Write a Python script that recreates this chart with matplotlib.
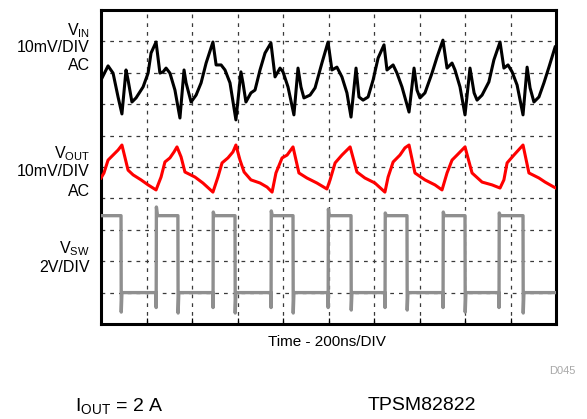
import matplotlib
matplotlib.use("Agg")
import matplotlib.pyplot as plt
import numpy as np

plt.rcParams['font.family'] = ['Liberation Sans', 'DejaVu Sans']
plt.rcParams['mathtext.fontset'] = 'custom'
plt.rcParams['mathtext.rm'] = 'Liberation Sans'
plt.rcParams['mathtext.it'] = 'Liberation Sans'

# Scope screen: 10 x 10 divisions, 200 ns/DIV
TIME_PER_DIV = 200  # ns

# VIN (AC, 10 mV/DIV)
vin_t_ns = [0, 31, 53, 75, 92, 110, 119, 136, 154, 185, 207, 220, 242, 259, 273, 286,
            303, 325, 347, 365, 374, 396, 418, 440, 462, 492, 506, 528, 545, 567, 593,
            615, 624, 637, 659, 677, 699, 721, 747, 765, 787, 800, 822, 848, 866, 879,
            892, 919, 941, 971, 998, 1015, 1037, 1059, 1081, 1099, 1121, 1134, 1152,
            1174, 1196, 1218, 1244, 1257, 1284, 1301, 1323, 1354, 1376, 1389, 1402,
            1424, 1455, 1477, 1503, 1521, 1543, 1556, 1578, 1600, 1622, 1640, 1653,
            1675, 1705, 1727, 1754, 1771, 1789, 1807, 1829, 1855, 1873, 1886, 1903,
            1925, 1947, 1969, 1996]
vin_mv = [-2.3, 2.2, -0.1, -7.7, -13.1, 0.9, -2.3, -9.3, -8.0, -4.5, -0.1, 6.3, 9.8, -0.1,
          0.3, 1.5, -0.1, -5.5, -14.4, 0.9, -3.2, -9.3, -7.1, -3.2, 3.1, 9.8, 2.5, 2.5,
          0.9, -3.2, -15.0, 0.3, -3.2, -9.3, -6.4, -5.5, 0.9, 6.3, 9.5, -1.3, 1.5, 0.3,
          -4.5, -13.4, 1.5, -4.5, -8.0, -7.1, -4.8, 3.1, 9.8, 0.9, 1.8, -1.3, -6.4, -14.1,
          1.5, -7.7, -8.7, -7.7, -2.3, 4.7, 8.9, 0.9, 2.5, -0.1, -4.5, -12.5, 1.5, -5.5,
          -8.0, -6.4, -0.1, 5.0, 10.4, 1.5, 3.1, 0.9, -4.5, -13.4, 1.5, -6.4, -8.7, -7.1,
          -2.9, 4.1, 9.8, 1.5, 2.5, 0.3, -3.9, -13.4, 1.8, -4.8, -9.3, -7.7, -3.2, 1.8, 8.2]

# VOUT (AC, 10 mV/DIV)
vout_t_ns = [0, 13, 31, 53, 75, 92, 119, 141, 176, 207, 242, 264, 281, 303, 321, 334,
             352, 369, 413, 448, 492, 514, 532, 558, 580, 593, 611, 629, 659, 699, 730,
             752, 769, 796, 818, 844, 870, 905, 949, 993, 1007, 1029, 1059, 1095, 1125,
             1160, 1204, 1248, 1262, 1284, 1314, 1336, 1354, 1380, 1424, 1468, 1499,
             1521, 1543, 1565, 1600, 1631, 1675, 1719, 1754, 1771, 1785, 1815, 1855,
             1881, 1925, 1952, 1991, 2000]
vout_mv = [-3.5, -1.9, 2.2, 3.8, 5.4, 7.0, -1.0, -2.5, -4.1, -5.7, -7.3, -3.2, 1.6, 2.9,
           4.8, 6.4, 3.2, -1.6, -3.2, -5.1, -8.0, -3.2, 1.3, 2.9, 4.8, 7.0, 2.2, -1.6,
           -4.1, -5.1, -6.4, -8.0, -1.9, 2.9, 3.8, 6.4, -1.9, -3.5, -5.1, -7.0, -4.1, 1.3,
           3.8, 6.4, -1.6, -3.5, -5.1, -8.0, -3.2, 1.6, 3.8, 6.1, 7.0, -1.9, -4.1, -5.7,
           -7.3, -1.9, 2.2, 3.8, 6.4, -1.9, -4.8, -5.7, -6.7, -4.1, 1.3, 3.8, 7.0, -1.9,
           -3.5, -4.8, -6.4, -6.7]

# VSW (2 V/DIV): switching edges and levels
sw_rise_ns = [242, 492, 747, 998, 1248, 1503, 1749]
sw_rise_peak_v = [5.45, 5.13, 5.20, 5.32, 5.07, 5.13, 5.07]
sw_fall_ns = [88, 338, 589, 844, 1099, 1345, 1600, 1855]
sw_fall_dip_v = [-1.24, -1.30, -1.30, -1.30, -1.11, -1.11, -1.24, -1.30]
sw_high_v = 4.9
sw_low_v = 0.0

# channel offsets (div) and scales
VIN_OFFSET, VIN_SCALE = 8.0, 10.0
VOUT_OFFSET, VOUT_SCALE = 5.0, 10.0
VSW_OFFSET, VSW_SCALE = 1.0, 2.0


def switch_node_trace():
    """Build the VSW trace from the read edges."""
    events = [(t, 'r', p) for t, p in zip(sw_rise_ns, sw_rise_peak_v)]
    events += [(t, 'f', d) for t, d in zip(sw_fall_ns, sw_fall_dip_v)]
    events.sort()
    t_pts, v_pts = [0], [sw_high_v]
    for t, kind, v in events:
        if kind == 'f':
            t_pts += [t, t + 1, t + 4]
            v_pts += [sw_high_v, v, sw_low_v]
        else:
            t_pts += [t, t + 0.5, t + 1.5, t + 6]
            v_pts += [sw_low_v, -0.95, v, sw_high_v]
    t_pts.append(2000)
    v_pts.append(sw_low_v)
    return np.array(t_pts), np.array(v_pts)


fig = plt.figure(figsize=(5.87, 4.19), dpi=100)
ax = fig.add_axes([101 / 587, 1 - 324 / 419, 455 / 587, 314 / 419])

ax.set_xlim(0, 10 * TIME_PER_DIV)
ax.set_ylim(0, 10)
ax.set_xticks(np.arange(0, 2001, TIME_PER_DIV))
ax.set_yticks(np.arange(0, 11, 1))
ax.grid(True, color='#3a3a3a', linewidth=0.9, linestyle=(0, (3, 4)))
ax.tick_params(axis='x', direction='in', length=4, width=0.9, labelbottom=False)
ax.tick_params(axis='y', length=0, labelleft=False)
for sp in ax.spines.values():
    sp.set_linewidth(2.2)

sw_t, sw_v = switch_node_trace()
ax.plot(sw_t, VSW_OFFSET + sw_v / VSW_SCALE, color='#8f8f8f', lw=2.4, zorder=3)
ax.plot(vout_t_ns, VOUT_OFFSET + np.array(vout_mv) / VOUT_SCALE, color='#ff0000', lw=2.2,
        solid_joinstyle='round', zorder=4)
ax.plot(vin_t_ns, VIN_OFFSET + np.array(vin_mv) / VIN_SCALE, color='black', lw=2.2,
        solid_joinstyle='round', zorder=4)

# channel labels left of the screen
lx = 90 / 587
def label(y_px, s):
    fig.text(lx, 1 - y_px / 419, s, ha='right', va='center', fontsize=11.5)

label(31, r'V$_\mathrm{IN}$')
label(48, '10mV/DIV')
label(66, 'AC')
label(154, r'V$_\mathrm{OUT}$')
label(172, '10mV/DIV')
label(191, 'AC')
label(249, r'V$_\mathrm{SW}$')
label(267, '2V/DIV')

fig.text(327 / 587, 1 - 342 / 419, 'Time - 200ns/DIV', ha='center', va='center', fontsize=11)
fig.text(576 / 587, 1 - 371 / 419, 'D045', ha='right', va='center', fontsize=8, color='#a8a8a8')
fig.text(75 / 587, 1 - 406 / 419, r'I$_\mathrm{OUT}$ = 2 A', ha='left', va='center', fontsize=14)
fig.text(368 / 587, 1 - 405 / 419, 'TPSM82822', ha='left', va='center', fontsize=14)

fig.savefig('out.png', dpi=100)
